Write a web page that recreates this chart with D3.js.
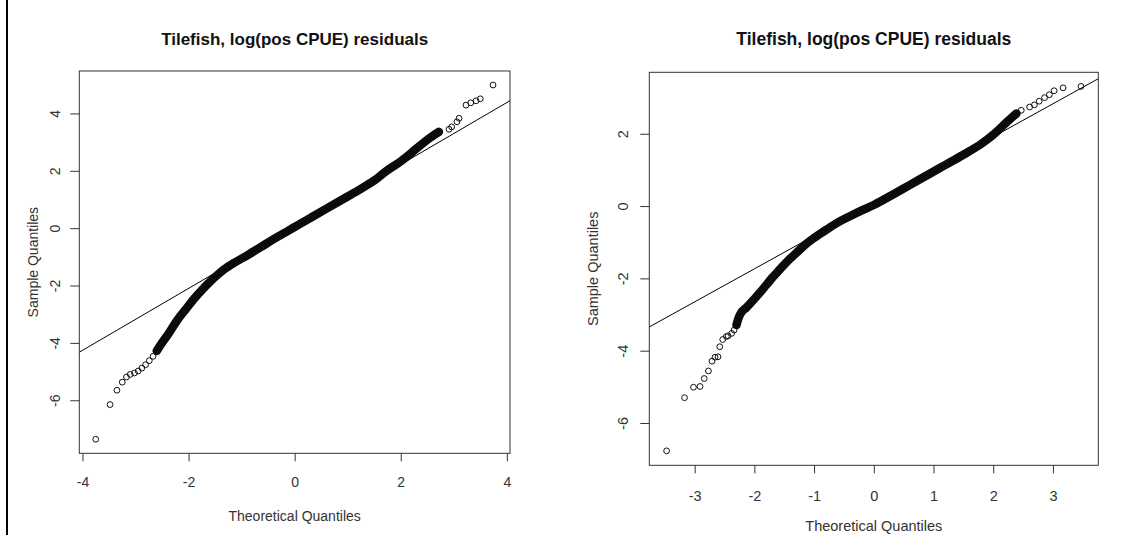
<!DOCTYPE html>
<html>
<head>
<meta charset="utf-8">
<script src="https://cdn.jsdelivr.net/npm/d3@7"></script>
<style>
  body { margin: 0; background: #fff; }
  svg { display: block; font-family: "Liberation Sans", Arial, sans-serif; }
</style>
</head>
<body>
<div class="chart"></div>
<script>
// values (theoretical vs sample quantiles)
var leftTheo = [-3.75, -3.48, -3.35, -3.25, -3.17, -3.10, -3.02, -2.95, -2.88, -2.81, -2.74, -2.67, -2.60,
    -2.53, -2.40, -2.21, -2.05, -1.90, -1.75, -1.58, -1.45, -1.33, -1.15, -0.96, -0.80, -0.64, -0.30,
    0.00, 0.30, 0.60, 0.90, 1.20, 1.50, 1.72, 2.00, 2.30, 2.55, 2.72,
    2.91, 2.96, 3.06, 3.10, 3.23, 3.32, 3.42, 3.50, 3.74];
var leftSample = [-7.36, -6.15, -5.65, -5.37, -5.19, -5.10, -5.05, -4.98, -4.88, -4.76, -4.62, -4.47, -4.28,
    -4.08, -3.74, -3.20, -2.82, -2.47, -2.16, -1.84, -1.62, -1.44, -1.22, -1.02, -0.84, -0.66, -0.28,
    0.04, 0.36, 0.68, 1.00, 1.32, 1.66, 1.98, 2.33, 2.78, 3.15, 3.36,
    3.45, 3.53, 3.71, 3.83, 4.29, 4.37, 4.44, 4.51, 4.99];
var leftBand = [-2.60, 2.72];     // range where the circles overplot into a solid band
var leftLine = [0.06, 1.08];      // qqline intercept, slope
var leftXTicks = [-4, -2, 0, 2, 4];
var leftYTicks = [-6, -4, -2, 0, 2, 4];

var rightTheo = [-3.47, -3.17, -3.02, -2.91, -2.84, -2.77, -2.71, -2.66, -2.61, -2.58, -2.53, -2.47, -2.44,
    -2.38, -2.34, -2.30, -2.27, -2.24, -2.13, -1.99, -1.91, -1.80, -1.70, -1.60, -1.50, -1.40, -1.30,
    -1.15, -1.00, -0.80, -0.60, -0.40, -0.20, 0.00, 0.30, 0.60, 0.90, 1.20, 1.50, 1.80, 2.00, 2.20, 2.39,
    2.47, 2.61, 2.69, 2.77, 2.86, 2.94, 3.02, 3.17, 3.47];
var rightSample = [-6.77, -5.30, -5.01, -4.99, -4.77, -4.56, -4.29, -4.18, -4.17, -3.89, -3.69, -3.61, -3.59,
    -3.52, -3.43, -3.29, -3.12, -3.00, -2.80, -2.55, -2.40, -2.18, -1.98, -1.80, -1.62, -1.45, -1.30,
    -1.07, -0.88, -0.66, -0.45, -0.28, -0.12, 0.03, 0.30, 0.58, 0.86, 1.14, 1.42, 1.72, 1.97, 2.28, 2.56,
    2.65, 2.74, 2.80, 2.90, 3.00, 3.08, 3.19, 3.27, 3.31];
var rightBand = [-2.30, 2.39];
var rightLine = [0.09, 0.913];
var rightXTicks = [-3, -2, -1, 0, 1, 2, 3];
var rightYTicks = [-6, -4, -2, 0, 2];

var titleText = "Tilefish, log(pos CPUE) residuals";

var svg = d3.select(".chart").append("svg")
    .attr("width", 1143)
    .attr("height", 535);

// thin black rule on the far left of the screenshot
svg.append("line")
    .attr("x1", 7).attr("x2", 7)
    .attr("y1", 0).attr("y2", 535)
    .attr("stroke", "#000")
    .attr("stroke-width", 2);

function qqPanel(p) {
    var x = d3.scaleLinear().domain(p.xDomain).range([p.left, p.right]);
    var y = d3.scaleLinear().domain(p.yDomain).range([p.bottom, p.top]);
    var pts = p.theo.map(function (d, i) { return [d, p.sample[i]]; });
    var fmt = function (d) { return String(d); };

    var g = svg.append("g");

    // title
    g.append("text")
        .attr("x", (p.left + p.right) / 2)
        .attr("y", 45)
        .attr("text-anchor", "middle")
        .style("font-weight", "bold")
        .style("font-size", p.titleSize + "px")
        .attr("fill", "#111")
        .text(titleText);

    // x axis
    var xa = g.append("g")
        .attr("transform", "translate(0," + p.bottom + ")")
        .call(d3.axisBottom(x).tickValues(p.xTicks).tickFormat(fmt)
            .tickSize(8).tickPadding(p.xPad));
    xa.select(".domain").remove();
    xa.selectAll("line").attr("stroke", "#333");
    xa.selectAll("text").style("font-size", p.fontSize + "px").attr("fill", "#333");

    // y axis, labels turned like R's las = 0
    var ya = g.append("g")
        .attr("transform", "translate(" + p.left + ",0)")
        .call(d3.axisLeft(y).tickValues(p.yTicks).tickFormat(fmt).tickSize(9));
    ya.select(".domain").remove();
    ya.selectAll("line").attr("stroke", "#333");
    ya.selectAll("text")
        .attr("x", null).attr("dy", null)
        .attr("text-anchor", "middle")
        .attr("transform", "translate(" + p.yLab + ",0) rotate(-90)")
        .style("font-size", p.fontSize + "px")
        .attr("fill", "#333");

    // axis titles
    g.append("text")
        .attr("x", (p.left + p.right) / 2)
        .attr("y", p.xTitleY)
        .attr("text-anchor", "middle")
        .style("font-size", p.fontSize + "px")
        .attr("fill", "#333")
        .text("Theoretical Quantiles");

    g.append("text")
        .attr("transform", "translate(" + p.yTitleX + "," + (p.top + p.bottom) / 2 + ") rotate(-90)")
        .attr("text-anchor", "middle")
        .style("font-size", p.fontSize + "px")
        .attr("fill", "#333")
        .text("Sample Quantiles");

    // plot box
    g.append("rect")
        .attr("x", p.left).attr("y", p.top)
        .attr("width", p.right - p.left)
        .attr("height", p.bottom - p.top)
        .attr("fill", "none")
        .attr("stroke", "#333");

    var clipId = "clip" + Math.round(p.left);
    g.append("clipPath").attr("id", clipId)
        .append("rect")
        .attr("x", p.left).attr("y", p.top)
        .attr("width", p.right - p.left)
        .attr("height", p.bottom - p.top);

    // reference line
    g.append("line")
        .attr("clip-path", "url(#" + clipId + ")")
        .attr("x1", x(p.xDomain[0]))
        .attr("y1", y(p.line[0] + p.line[1] * p.xDomain[0]))
        .attr("x2", x(p.xDomain[1]))
        .attr("y2", y(p.line[0] + p.line[1] * p.xDomain[1]))
        .attr("stroke", "#000")
        .attr("stroke-width", 1);

    // dense overplotted core
    var core = pts.filter(function (d) { return d[0] >= p.band[0] && d[0] <= p.band[1]; });
    g.append("path")
        .datum(core)
        .attr("d", d3.line()
            .x(function (d) { return x(d[0]); })
            .y(function (d) { return y(d[1]); })
            .curve(d3.curveMonotoneX))
        .attr("fill", "none")
        .attr("stroke", "#0a0a0a")
        .attr("stroke-width", 8.5)
        .attr("stroke-linecap", "round")
        .attr("stroke-linejoin", "round");

    // points
    g.selectAll(".pt")
        .data(pts)
        .enter().append("circle")
        .attr("class", "pt")
        .attr("cx", function (d) { return x(d[0]); })
        .attr("cy", function (d) { return y(d[1]); })
        .attr("r", 2.9)
        .attr("fill", "none")
        .attr("stroke", "#111")
        .attr("stroke-width", 1);
}

qqPanel({
    theo: leftTheo, sample: leftSample, band: leftBand, line: leftLine,
    xTicks: leftXTicks, yTicks: leftYTicks,
    xDomain: [-4.06, 4.06], yDomain: [-7.85, 5.48],
    left: 79.3, right: 510, top: 71, bottom: 453.3,
    titleSize: 17, fontSize: 14, xPad: 16, yLab: -19,
    xTitleY: 521, yTitleX: 38
});

qqPanel({
    theo: rightTheo, sample: rightSample, band: rightBand, line: rightLine,
    xTicks: rightXTicks, yTicks: rightYTicks,
    xDomain: [-3.76, 3.76], yDomain: [-7.17, 3.70],
    left: 649.3, right: 1098.3, top: 72.3, bottom: 465.3,
    titleSize: 17.5, fontSize: 14.5, xPad: 17, yLab: -21,
    xTitleY: 531, yTitleX: 598
});
</script>
</body>
</html>
